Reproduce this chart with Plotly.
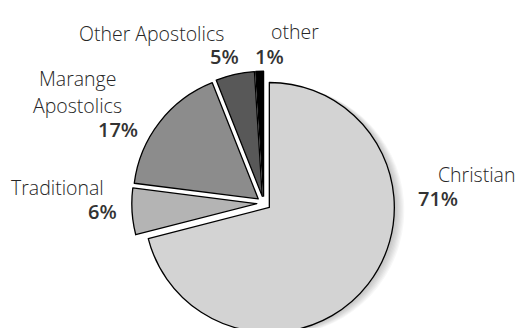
import plotly.graph_objects as go

# Religious affiliation shares (percent), clockwise from 12 o'clock
categories = ["Christian", "Traditional", "Marange Apostolics", "Other Apostolics", "other"]
shares = [71, 6, 17, 5, 1]

# Label lines as drawn beside each slice
label_lines = [["Christian"], ["Traditional"], ["Marange", "Apostolics"], ["Other Apostolics"], ["other"]]

slice_colors = ["#d3d3d3", "#b4b4b4", "#8c8c8c", "#585858", "#000000"]
explode = 0.056  # every slice is pushed out from the centre

W, H = 518, 345

# pie placement in pixels (true centre and radius)
cx, cy, r = 263.8, 203.2, 125
half = r * (1 + explode)


def px(x):
    return x / W


def py(y):
    return 1 - y / H


def pie_domain(dx=0.0, dy=0.0):
    return dict(
        x=[px(cx + dx - half), px(cx + dx + half)],
        y=[py(cy + dy + half), py(cy + dy - half)],
    )


fig = go.Figure()

# soft drop shadow to the right of the large slice
n_shadow = 8
for k in range(n_shadow, 0, -1):
    shade = ["rgba(0,0,0,0.03)"] + ["rgba(0,0,0,0)"] * (len(shares) - 1)
    fig.add_trace(
        go.Pie(
            labels=categories,
            values=shares,
            sort=False,
            direction="clockwise",
            rotation=0,
            pull=[explode] * len(shares),
            marker=dict(colors=shade, line=dict(width=0)),
            textinfo="none",
            hoverinfo="skip",
            showlegend=False,
            domain=pie_domain(dx=1.25 * k, dy=0.35 * k),
        )
    )

fig.add_trace(
    go.Pie(
        labels=categories,
        values=shares,
        sort=False,
        direction="clockwise",
        rotation=0,
        pull=[explode] * len(shares),
        marker=dict(colors=slice_colors, line=dict(color="#000000", width=1.3)),
        textinfo="none",
        hoverinfo="skip",
        showlegend=False,
        domain=pie_domain(),
    )
)

# label anchors in pixels: first name line centre, percent centre
name_pos = [(476, 175.5), (57, 188.7), (77, 80), (151, 35.5), (295, 33)]
line_step = 26.5
pct_pos = [(438, 200), (102, 213.3), (117.5, 131), (224.3, 58.3), (269, 58.3)]
v_adj = -1.5

font_family = "Open Sans"
for lines, share, (nx, ny), (qx, qy) in zip(label_lines, shares, name_pos, pct_pos):
    for i, line in enumerate(lines):
        fig.add_annotation(
            x=px(nx), y=py(ny + v_adj + i * line_step), xref="paper", yref="paper",
            text=line, showarrow=False,
            xanchor="center", yanchor="middle",
            font=dict(family=font_family, size=19.5, color="#262626", weight=300),
        )
    fig.add_annotation(
        x=px(qx), y=py(qy + v_adj), xref="paper", yref="paper",
        text=f"{share}%", showarrow=False,
        xanchor="center", yanchor="middle",
        font=dict(family=font_family, size=20, color="#333333", weight=600),
    )

fig.update_layout(
    width=W,
    height=H,
    margin=dict(l=0, r=0, t=0, b=0),
    paper_bgcolor="#ffffff",
    plot_bgcolor="#ffffff",
)

fig.write_html(
    "out.html",
    config={"displayModeBar": False},
    post_script="document.documentElement.style.overflow='hidden';document.body.style.overflow='hidden';document.body.style.margin='0';",
)
